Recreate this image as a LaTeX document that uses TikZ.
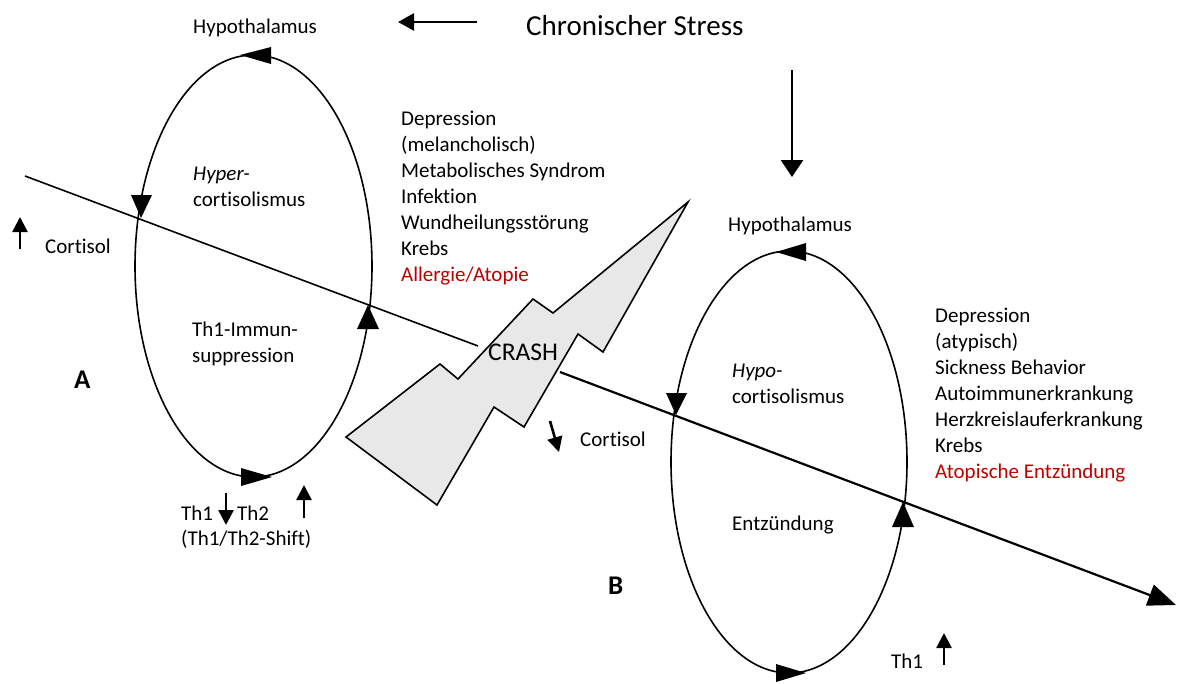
\documentclass[tikz,border=0pt]{standalone}
\usepackage{fontspec}
\setmainfont{Carlito}[Ligatures=NoCommon]
\usetikzlibrary{arrows.meta}
\definecolor{redtxt}{HTML}{C00000}
\definecolor{boltgray}{HTML}{E8E8E8}
\begin{document}
\begin{tikzpicture}[x=1pt,y=-1pt,
  txt/.style={anchor=base west, inner sep=0pt, font=\fontsize{21}{26}\selectfont},
  bigtxt/.style={anchor=base west, inner sep=0pt, font=\fontsize{29}{34}\selectfont},
  crashtxt/.style={anchor=base west, inner sep=0pt, font=\fontsize{25.5}{30}\selectfont},
  lettertxt/.style={anchor=base west, inner sep=0pt, font=\fontsize{27}{30}\selectfont\bfseries},
  loopline/.style={line width=1.6pt},
  axisline/.style={line width=1.6pt},
  sarrow/.style={line width=2.6pt, -{Triangle[length=15pt,width=15pt]}},
]
\useasboundingbox (0,0) rectangle (1177,683);

% ---- lines across the loops
\coordinate (la) at (25,176);
\coordinate (lb) at (478,346);
\draw[axisline] (la) -- (lb);
\coordinate (ra) at (560,372);
\coordinate (rb) at (1176,605);
\draw[line width=2.2pt, -{Triangle[length=28pt,width=22pt]}] (ra) -- (rb);

% ---- loop A
\draw[loopline] (253.5,266) ellipse [x radius=118.5pt, y radius=211pt];
\fill (240,55) -- (271,47) -- (271,64) -- cycle;
\fill (141,218) -- (131,195) -- (152,195) -- cycle;
\fill (368,305) -- (357,329) -- (379,329) -- cycle;
\fill (272,477) -- (241,468) -- (241,486) -- cycle;

% ---- loop B
\draw[loopline] (789,462) ellipse [x radius=118pt, y radius=211pt];
\fill (776,252) -- (806,243) -- (806,261) -- cycle;
\fill (676,415) -- (666,393) -- (687,393) -- cycle;
\fill (903,502) -- (892,527) -- (914,527) -- cycle;
\fill (806,673) -- (776,664) -- (776,682) -- cycle;

% ---- lightning bolt
\draw[line width=1.6pt, fill=boltgray, line join=miter]
  (346,437) -- (440,364) -- (458,379) -- (533,299) -- (553,313) -- (688,202)
  -- (603,352) -- (578,334) -- (524,427) -- (494,407) -- (437,505) -- cycle;
\node[crashtxt] (crash) at (488,360) {CRASH};

% ---- top
\node[txt] (hypoA) at (193,33) {Hypothalamus};
\node[bigtxt] (stress) at (526,35) {Chronischer Stress};
\coordinate (sl1) at (477,22);
\coordinate (sl2) at (398,22);
\draw[line width=2.6pt, -{Triangle[length=16pt,width=17pt]}] (sl1) -- (sl2);
\coordinate (sd1) at (792,70);
\coordinate (sd2) at (792,177);
\draw[line width=2.6pt, -{Triangle[length=17pt,width=22pt]}] (sd1) -- (sd2);

% ---- list A
\node[txt] (a1) at (401,125) {Depression};
\node[txt] (a2) at (401,151) {(melancholisch)};
\node[txt] (a3) at (401,177) {Metabolisches Syndrom};
\node[txt] (a4) at (401,203) {Infektion};
\node[txt] (a5) at (401,229) {Wundheilungsstörung};
\node[txt] (a6) at (401,255) {Krebs};
\node[txt, text=redtxt] (a7) at (401,281) {Allergie/Atopie};

% ---- loop A texts
\node[txt] (hyper) at (193,180) {\itshape Hyper-};
\node[txt] (cortA) at (193,206) {cortisolismus};
\node[txt] (cortisolA) at (45,253) {Cortisol};
\coordinate (ca1) at (20,249);
\coordinate (ca2) at (20,217);
\draw[sarrow] (ca1) -- (ca2);
\node[txt] (th1imm) at (192,336) {Th1-Immun-};
\node[txt] (suppr) at (192,362) {suppression};
\node[lettertxt] (labA) at (74,388) {A};
\node[txt] (th1A) at (181,520) {Th1};
\node[txt] (th2A) at (237,520) {Th2};
\coordinate (td1) at (226,493);
\coordinate (td2) at (226,525);
\draw[sarrow] (td1) -- (td2);
\coordinate (tu1) at (304,518);
\coordinate (tu2) at (304,485);
\draw[sarrow] (tu1) -- (tu2);
\node[txt] (shift) at (181,545) {(Th1/Th2-Shift)};

% ---- loop B texts
\node[txt] (cortisolB) at (580,446) {Cortisol};
\coordinate (cb1) at (550,421);
\coordinate (cb2) at (559,452);
\draw[sarrow] (cb1) -- (cb2);
\node[txt] (hypoB) at (728,231) {Hypothalamus};
\node[txt] (hypo) at (732,377) {\itshape Hypo-};
\node[txt] (cortB) at (732,403) {cortisolismus};
\node[txt] (entz) at (732,530) {Entzündung};
\node[lettertxt] (labB) at (608,594) {B};
\node[txt] (th1B) at (891,668) {Th1};
\coordinate (cu1) at (944,665);
\coordinate (cu2) at (944,633);
\draw[sarrow] (cu1) -- (cu2);

% ---- list B
\node[txt] (b1) at (935,322) {Depression};
\node[txt] (b2) at (935,348) {(atypisch)};
\node[txt] (b3) at (935,374) {Sickness Behavior};
\node[txt] (b4) at (935,400) {Autoimmunerkrankung};
\node[txt] (b5) at (935,426) {Herzkreislauferkrankung};
\node[txt] (b6) at (935,452) {Krebs};
\node[txt, text=redtxt] (b7) at (935,478) {Atopische Entzündung};
\end{tikzpicture}
\end{document}
